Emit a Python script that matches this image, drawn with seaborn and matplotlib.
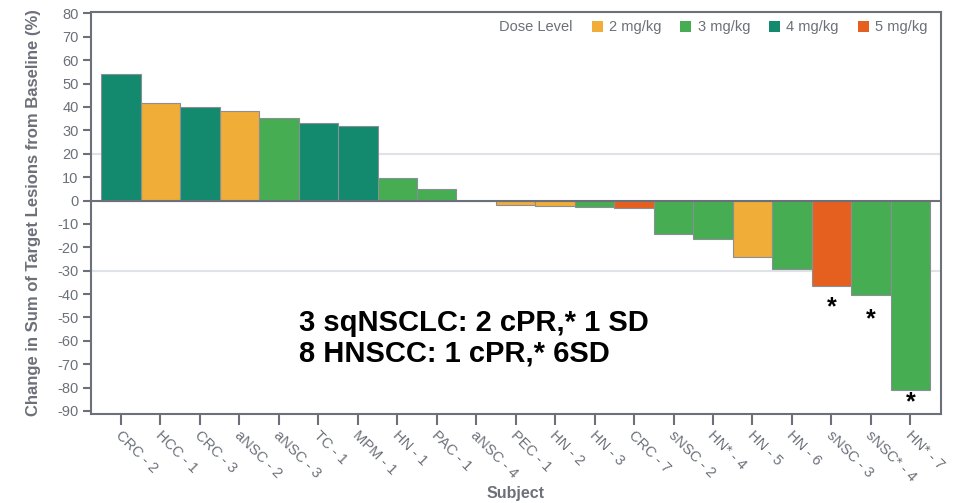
import matplotlib
matplotlib.use("Agg")
import matplotlib.pyplot as plt
import matplotlib.patches as mpatches
import matplotlib.transforms as mtransforms
import seaborn as sns
import pandas as pd

subjects = ["CRC - 2", "HCC - 1", "CRC - 3", "aNSC - 2", "aNSC - 3", "TC - 1", "MPM - 1",
            "HN - 1", "PAC - 1", "aNSC - 4", "PEC - 1", "HN - 2", "HN - 3", "CRC - 7",
            "sNSC - 2", "HN* - 4", "HN - 5", "HN - 6", "sNSC - 3", "sNSC* - 4", "HN* - 7"]
changes = [54, 41.5, 40.1, 38.2, 35.4, 33.2, 31.8, 9.6, 4.8, 0, -1.9, -2.2, -2.6, -3.3,
           -14.4, -16.3, -24, -29.1, -36.4, -40.5, -81]
doses = ["4 mg/kg", "2 mg/kg", "4 mg/kg", "2 mg/kg", "3 mg/kg", "4 mg/kg", "4 mg/kg",
         "3 mg/kg", "3 mg/kg", "3 mg/kg", "2 mg/kg", "2 mg/kg", "3 mg/kg", "5 mg/kg",
         "3 mg/kg", "3 mg/kg", "2 mg/kg", "3 mg/kg", "5 mg/kg", "3 mg/kg", "3 mg/kg"]
dose_levels = ["2 mg/kg", "3 mg/kg", "4 mg/kg", "5 mg/kg"]
dose_colors = ["#F0AD37", "#46AD53", "#138A6E", "#E5601E"]
star_subjects = ["sNSC - 3", "sNSC* - 4", "HN* - 7"]
star_y = [-45.5, -51, -86.5]
grid_values = [20, -30]

df = pd.DataFrame({"subject": subjects, "change": changes, "dose": doses})

sns.set_theme(style="white")
plt.rcParams["font.family"] = ["Liberation Sans", "DejaVu Sans"]
plt.rcParams["axes.unicode_minus"] = False

fig, ax = plt.subplots(figsize=(9.58, 5.03), dpi=100)
fig.subplots_adjust(left=0.095, right=0.982, top=0.976, bottom=0.177)

for g in grid_values:
    ax.axhline(g, color="#dfe3e8", lw=1.5, zorder=0)

sns.barplot(data=df, x="subject", y="change", hue="dose", hue_order=dose_levels,
            palette=dict(zip(dose_levels, dose_colors)), order=subjects, dodge=False,
            width=1.0, saturation=1, edgecolor="#8a8f96", linewidth=0.8, ax=ax,
            legend=False, zorder=2)

ax.axhline(0, color="#6b7079", lw=1.5, zorder=3)

gray = "#6b7079"
for s in ax.spines.values():
    s.set_color(gray)
    s.set_linewidth(1.5)

ax.set_xlim(-0.76, 20.77)
ax.set_ylim(-91.3, 80.6)
ax.set_yticks(range(-90, 81, 10))
ax.tick_params(axis="y", which="major", left=True, length=6, width=1.5, color=gray,
               labelcolor="#6b7079", labelsize=10.5, pad=3)
ax.tick_params(axis="x", which="major", bottom=True, length=8, width=1.5, color=gray,
               labelcolor="#6b7079", labelsize=10.5, pad=2)
ax.set_xticks(range(len(subjects)))
ax.set_xticklabels(subjects, rotation=-45, ha="left", rotation_mode="anchor")
offset = mtransforms.ScaledTranslation(2 / 100, 0 / 100, fig.dpi_scale_trans)
for lab in ax.get_xticklabels():
    lab.set_transform(lab.get_transform() + offset)

ax.set_xlabel("Subject", color=gray, fontsize=11.5, fontweight="bold")
ax.set_ylabel("Change in Sum of Target Lesions from Baseline (%)", color=gray,
              fontsize=12, fontweight="bold", labelpad=12)
ax.xaxis.set_label_coords(0.5, -0.178)

for s, y in zip(star_subjects, star_y):
    ax.text(subjects.index(s), y, "*", ha="center", va="center", fontsize=18,
            fontweight="bold", color="black")

ax.text(0.245, 0.262, "3 sqNSCLC: 2 cPR,* 1 SD\n8 HNSCC: 1 cPR,* 6SD", transform=ax.transAxes,
        ha="left", va="top", fontsize=21, fontweight="bold", color="black", linespacing=1.15)

handles = [mpatches.Patch(facecolor=c, edgecolor="none") for c in dose_colors]
leg = ax.legend(handles, dose_levels, ncol=4, loc="upper right", bbox_to_anchor=(1.0, 1.012),
                frameon=False, fontsize=10.5, handlelength=0.75, handleheight=0.75,
                handletextpad=0.45, columnspacing=1.28, labelcolor="#6b7079")
fig.text(499 / 958, 1 - 27 / 503, "Dose Level", ha="left", va="center", fontsize=10.5,
         color="#6b7079")

fig.savefig("out.png", dpi=100)
